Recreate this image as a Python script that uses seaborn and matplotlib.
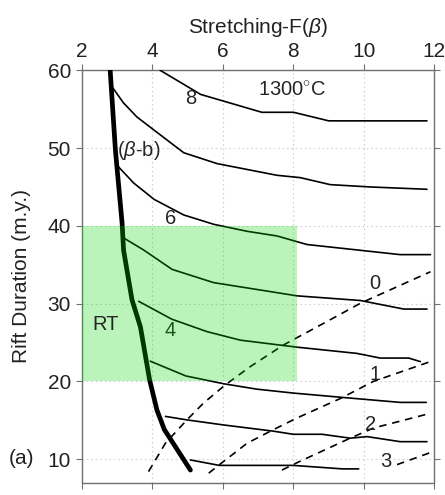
import matplotlib
matplotlib.use("Agg")
import matplotlib.pyplot as plt
import seaborn as sns
import pandas as pd
from matplotlib.patches import Rectangle

# ---- data ----
# thick (beta-b) line
bb_x = [2.80, 2.95, 3.14, 3.18, 3.42, 3.66, 3.92, 4.13, 4.34, 5.08]
bb_y = [60.0, 49.7, 40.3, 36.9, 30.5, 27.0, 20.2, 16.3, 13.8, 8.6]

# solid contour lines (top to bottom)
c8_x = [4.22, 5.37, 7.11, 8.01, 9.01, 11.8]
c8_y = [60.0, 56.9, 54.6, 54.6, 53.5, 53.5]
c7_x = [2.85, 3.18, 3.56, 4.05, 4.89, 5.84, 7.54, 8.2, 9.05, 10.19, 11.8]
c7_y = [57.9, 55.8, 54.0, 52.3, 49.4, 48.0, 46.5, 46.2, 45.3, 45.0, 44.7]
c6_x = [2.95, 3.47, 4.05, 4.89, 5.74, 6.69, 7.54, 8.39, 11.04, 11.9]
c6_y = [48.0, 45.5, 43.4, 41.4, 40.2, 39.3, 38.7, 37.6, 36.3, 36.3]
c5_x = [3.2, 3.75, 4.56, 5.74, 8.11, 9.91, 11.14, 11.8]
c5_y = [38.4, 36.9, 34.4, 32.7, 31.0, 30.4, 29.3, 29.3]
c4_x = [3.61, 4.55, 5.55, 6.5, 8.11, 9.81, 10.47, 11.28, 11.61]
c4_y = [30.3, 28.0, 26.4, 25.3, 24.4, 23.6, 23.0, 23.0, 22.55]
c3_x = [3.94, 4.95, 6.02, 6.97, 8.0, 9.5, 11.04, 11.78]
c3_y = [22.6, 20.7, 19.7, 19.0, 18.5, 17.9, 17.3, 17.3]
c2_x = [4.37, 4.98, 6.02, 7.44, 8.0, 8.82, 9.62, 10.1, 11.04, 11.8]
c2_y = [15.5, 15.05, 14.4, 13.6, 13.2, 13.2, 12.7, 12.9, 12.25, 12.25]
c1_x = [5.08, 5.9, 8.0, 9.4, 9.86]
c1_y = [9.9, 9.2, 9.2, 8.75, 8.75]

# dashed lines 0..3
d0_x = [3.89, 4.37, 4.98, 5.45, 6.07, 6.78, 7.73, 8.96, 9.91, 11.9]
d0_y = [8.4, 12.05, 15.05, 17.2, 19.55, 21.9, 24.7, 27.7, 30.05, 34.1]
d1_x = [5.60, 6.02, 6.69, 7.44, 8.11, 9.34, 10.28, 11.9]
d1_y = [8.2, 9.7, 12.05, 13.8, 15.3, 17.8, 20.0, 22.55]
d2_x = [7.68, 8.11, 9.62, 10.28, 11.9]
d2_y = [8.6, 9.55, 12.7, 14.0, 15.9]
d3_x = [10.95, 11.9]
d3_y = [9.3, 10.85]

# RT box
rt_x0, rt_x1, rt_y0, rt_y1 = 2.0, 8.12, 20.0, 40.0

x_ticks = [2, 4, 6, 8, 10, 12]
y_ticks = [10, 20, 30, 40, 50, 60]

# ---- plotting ----
sns.set_theme(style="white")
plt.rcParams['font.family'] = ['Liberation Sans', 'DejaVu Sans']
plt.rcParams['mathtext.fontset'] = 'custom'
plt.rcParams['mathtext.rm'] = 'Liberation Sans'
plt.rcParams['mathtext.it'] = 'Liberation Sans:italic'

W, H = 445, 495
fig = plt.figure(figsize=(W / 100, H / 100), dpi=100)
L, R, T, B = 82, 434, 70.3, 482.5
ax = fig.add_axes([L / W, 1 - B / H, (R - L) / W, (B - T) / H])

FS = 15
IN = 14.5

solid = [(c8_x, c8_y), (c7_x, c7_y), (c6_x, c6_y), (c5_x, c5_y),
         (c4_x, c4_y), (c3_x, c3_y), (c2_x, c2_y), (c1_x, c1_y)]
for xs, ys in solid:
    sns.lineplot(x=xs, y=ys, ax=ax, color='black', lw=1.2, sort=False,
                 estimator=None, zorder=3)

dashed = [(d0_x, d0_y), (d1_x, d1_y), (d2_x, d2_y), (d3_x, d3_y)]
for xs, ys in dashed:
    sns.lineplot(x=xs, y=ys, ax=ax, color='black', lw=1.2, sort=False,
                 estimator=None, zorder=3, linestyle=(0, (4.5, 3.5)))

sns.lineplot(x=bb_x, y=bb_y, ax=ax, color='black', lw=3.4, sort=False,
             estimator=None, zorder=3)

ax.text(5.08, 56.4, "8", fontsize=IN, ha='center', va='center', zorder=3)
ax.text(4.51, 41.0, "6", fontsize=IN, ha='center', va='center', zorder=3)
ax.text(4.51, 26.6, "4", fontsize=IN, ha='center', va='center', zorder=3)

ax.add_patch(Rectangle((rt_x0, rt_y0), rt_x1 - rt_x0, rt_y1 - rt_y0,
                       facecolor=(0.0, 0.85, 0.0), alpha=0.27,
                       edgecolor='none', zorder=4))

ax.text(7.97, 57.5, "1300$^{\\circ}$C", fontsize=IN, ha='center', va='center', zorder=5)
ax.text(3.62, 49.75, "($\\beta$-b)", fontsize=IN, ha='center', va='center', zorder=5)
ax.text(2.66, 27.3, "RT", fontsize=IN, ha='center', va='center', zorder=5)
ax.text(10.33, 32.6, "0", fontsize=IN, ha='center', va='center', zorder=5)
ax.text(10.33, 20.9, "1", fontsize=IN, ha='center', va='center', zorder=5)
ax.text(10.19, 14.4, "2", fontsize=IN, ha='center', va='center', zorder=5)
ax.text(10.62, 9.7, "3", fontsize=IN, ha='center', va='center', zorder=5)

ax.set_xlim(2, 12)
ax.set_ylim(7.0, 60)
ax.set_xticks(x_ticks)
ax.set_yticks(y_ticks)
ax.set_xticklabels([str(v) for v in x_ticks])
ax.set_yticklabels([str(v) for v in y_ticks])

ax.grid(True, linestyle=(0, (1.5, 2.5)), color='#d2d2d2', lw=0.8, zorder=0)
ax.set_axisbelow(True)

for s in ax.spines.values():
    s.set_visible(True)
    s.set_color('#707070')
    s.set_linewidth(1.0)

ax.tick_params(axis='x', top=True, bottom=True, labeltop=True, labelbottom=False,
               direction='out', length=4, width=0.8, color='#707070',
               labelsize=FS, labelcolor='#222222', pad=3)
ax.tick_params(axis='y', left=True, right=True, labelleft=True, labelright=False,
               direction='out', length=4, width=0.8, color='#707070',
               labelsize=FS, labelcolor='#222222', pad=4)

ax.xaxis.set_label_position('top')
ax.set_xlabel("Stretching-F($\\beta$)", fontsize=FS, color='#222222', labelpad=6)
ax.set_ylabel("Rift Duration (m.y.)", fontsize=FS, color='#222222')
ax.yaxis.set_label_coords((31 - L) / (R - L), 0.5)

fig.text(21.7 / W, 1 - 458 / H, "(a)", fontsize=FS, ha='center', va='center',
         color='#222222')

fig.savefig("out.png", dpi=100)
